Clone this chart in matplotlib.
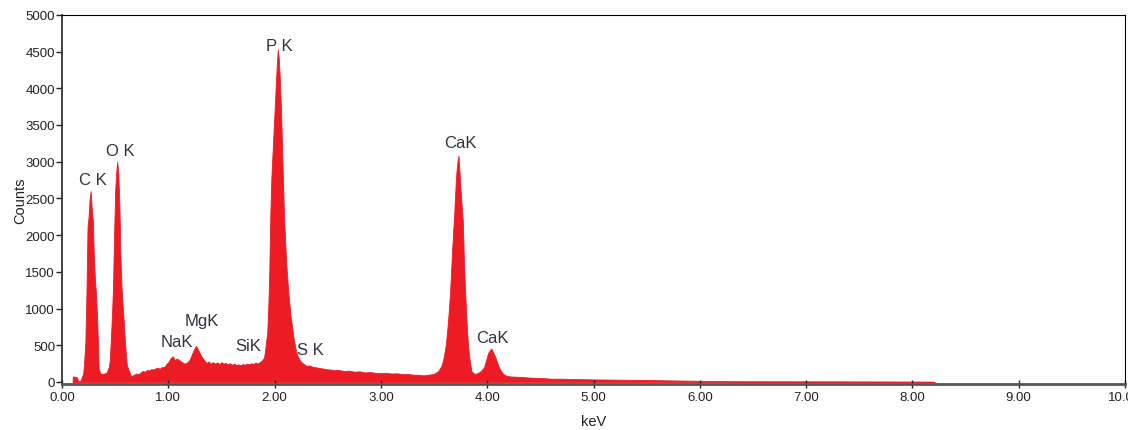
import numpy as np
import matplotlib.pyplot as plt

plt.rcParams['font.family'] = ['Liberation Sans', 'DejaVu Sans']

# spectrum (keV, counts), split by region
low_kev = [0.10, 0.101, 0.13, 0.145, 0.15, 0.17, 0.18, 0.19, 0.20, 0.21, 0.22, 0.23, 0.24, 0.25,
           0.26, 0.27, 0.28, 0.29, 0.30, 0.31, 0.32, 0.33, 0.34, 0.345, 0.36, 0.38, 0.40, 0.42,
           0.44, 0.45, 0.46, 0.47, 0.48, 0.49, 0.50, 0.51, 0.52, 0.53, 0.54, 0.55, 0.56, 0.57,
           0.58, 0.59, 0.60, 0.61, 0.63, 0.65]
low_counts = [0, 75, 70, 55, 10, 10, 40, 80, 120, 300, 550, 1200, 2100, 2250,
              2500, 2600, 2350, 2200, 1700, 1400, 1200, 880, 450, 180, 120, 110, 115, 130,
              200, 300, 600, 900, 1300, 2000, 2600, 2850, 3000, 2830, 2400, 1700, 1300, 1050,
              850, 600, 400, 230, 150, 80]

mid_kev = [0.66, 0.68, 0.70, 0.72, 0.74, 0.76, 0.78, 0.80, 0.82, 0.84, 0.86, 0.88, 0.90, 0.92,
           0.94, 0.96, 0.98, 1.00, 1.02, 1.04, 1.05, 1.06, 1.08, 1.10, 1.12, 1.14, 1.16, 1.18,
           1.20, 1.22, 1.24, 1.26, 1.27, 1.28, 1.30, 1.32, 1.34, 1.36, 1.38, 1.40, 1.42, 1.44,
           1.46, 1.48, 1.50, 1.52, 1.54, 1.56, 1.58, 1.60, 1.62, 1.64, 1.66, 1.68, 1.70, 1.72,
           1.74, 1.76, 1.78, 1.80, 1.82, 1.84, 1.86, 1.88, 1.90]
mid_counts = [85, 100, 115, 105, 130, 150, 140, 165, 155, 175, 170, 185, 195, 180,
              205, 200, 240, 270, 320, 350, 330, 300, 320, 300, 280, 260, 250, 270,
              300, 370, 440, 490, 470, 440, 380, 330, 290, 260, 280, 250, 270, 250,
              265, 245, 270, 250, 260, 240, 255, 235, 250, 230, 240, 225, 245, 235,
              250, 240, 255, 245, 265, 250, 270, 290, 330]

pk_kev = [1.91, 1.92, 1.93, 1.94, 1.95, 1.96, 1.97, 1.98, 1.99, 2.00, 2.01, 2.02, 2.03, 2.04,
          2.05, 2.06, 2.07, 2.08, 2.09, 2.10, 2.11, 2.12, 2.13, 2.14, 2.15, 2.16, 2.18, 2.20,
          2.22, 2.24, 2.26, 2.28]
pk_counts = [420, 560, 650, 1000, 1500, 2300, 2800, 3100, 3400, 3700, 4000, 4300, 4530, 4400,
             4100, 3700, 3200, 2700, 2200, 1900, 1600, 1400, 1200, 1050, 900, 800, 580, 430,
             340, 290, 260, 240]

high_kev = [2.30, 2.33, 2.36, 2.39, 2.42, 2.45, 2.48, 2.52, 2.56, 2.60, 2.65, 2.70, 2.75, 2.80,
            2.85, 2.90, 2.95, 3.00, 3.05, 3.10, 3.15, 3.20, 3.25, 3.30, 3.35, 3.40, 3.45, 3.50,
            3.54, 3.57]
high_counts = [220, 225, 205, 200, 190, 185, 175, 170, 160, 165, 150, 155, 140, 145,
               130, 135, 125, 120, 125, 115, 118, 108, 110, 100, 98, 90, 100, 110,
               150, 220]

ca_kev = [3.59, 3.61, 3.63, 3.65, 3.67, 3.69, 3.70, 3.71, 3.72, 3.73, 3.74, 3.75, 3.76, 3.77,
          3.78, 3.79, 3.80, 3.81, 3.82, 3.83, 3.85, 3.88, 3.91, 3.94, 3.97, 3.99, 4.01, 4.03,
          4.04, 4.05, 4.07, 4.09, 4.11, 4.13, 4.15, 4.18, 4.22]
ca_counts = [330, 500, 800, 1200, 1800, 2300, 2600, 2850, 3000, 3080, 2850, 2600, 2400, 2200,
             1700, 1300, 1000, 700, 500, 350, 150, 110, 120, 150, 200, 300, 400, 440,
             455, 420, 360, 280, 200, 150, 110, 85, 75]

tail_kev = [4.30, 4.40, 4.50, 4.60, 4.70, 4.80, 4.90, 5.00, 5.20, 5.40, 5.60, 5.80, 6.00, 6.20,
            6.50, 7.00, 7.50, 8.00, 8.20, 8.21]
tail_counts = [70, 60, 55, 45, 45, 40, 38, 35, 32, 28, 25, 20, 16, 12,
               10, 9, 8, 6, 5, 0]

peak_labels = ['C K', 'O K', 'NaK', 'MgK', 'SiK', 'P K', 'S K', 'CaK', 'CaK']
label_kev = [0.292, 0.546, 1.080, 1.312, 1.755, 2.041, 2.338, 3.747, 4.053]
label_counts = [2758, 3156, 548, 833, 493, 4579, 448, 3265, 611]

energy = np.concatenate([low_kev, mid_kev, pk_kev, high_kev, ca_kev, tail_kev])
counts = np.concatenate([low_counts, mid_counts, pk_counts, high_counts, ca_counts, tail_counts])

fig = plt.figure(figsize=(11.28, 4.31), dpi=100)
ax = fig.add_axes([0.05496, 0.1063, 0.9424, 0.857])

red = '#ED1C24'
ax.fill_between(energy, counts, 0, color=red, lw=0.6, edgecolor=red)

for lab, x, y in zip(peak_labels, label_kev, label_counts):
    ax.text(x, y, lab, ha='center', va='center', fontsize=12, color='#333340')

ax.set_xlim(0, 10)
ax.set_ylim(-30, 4990)
ax.set_xticks(np.arange(0, 11, 1))
ax.set_xticklabels(['%.2f' % v for v in range(11)])
ax.set_yticks(np.arange(0, 5001, 500))

ax.tick_params(axis='y', direction='out', length=4, width=1, labelsize=9.5,
               colors='#222222', pad=1)
ax.tick_params(axis='x', direction='inout', length=6, width=1, labelsize=9.5,
               colors='#222222', pad=2)

ax.spines['left'].set_color('#333333')
ax.spines['left'].set_linewidth(1.3)
ax.spines['bottom'].set_color('#555555')
ax.spines['bottom'].set_linewidth(2)
ax.spines['top'].set_linewidth(0.8)
ax.spines['right'].set_linewidth(0.8)

ax.set_ylabel('Counts', fontsize=10.5, color='#222222', labelpad=-1)
ax.set_xlabel('keV', fontsize=10.5, color='#222222', labelpad=8)

plt.savefig('out.png', dpi=100)
